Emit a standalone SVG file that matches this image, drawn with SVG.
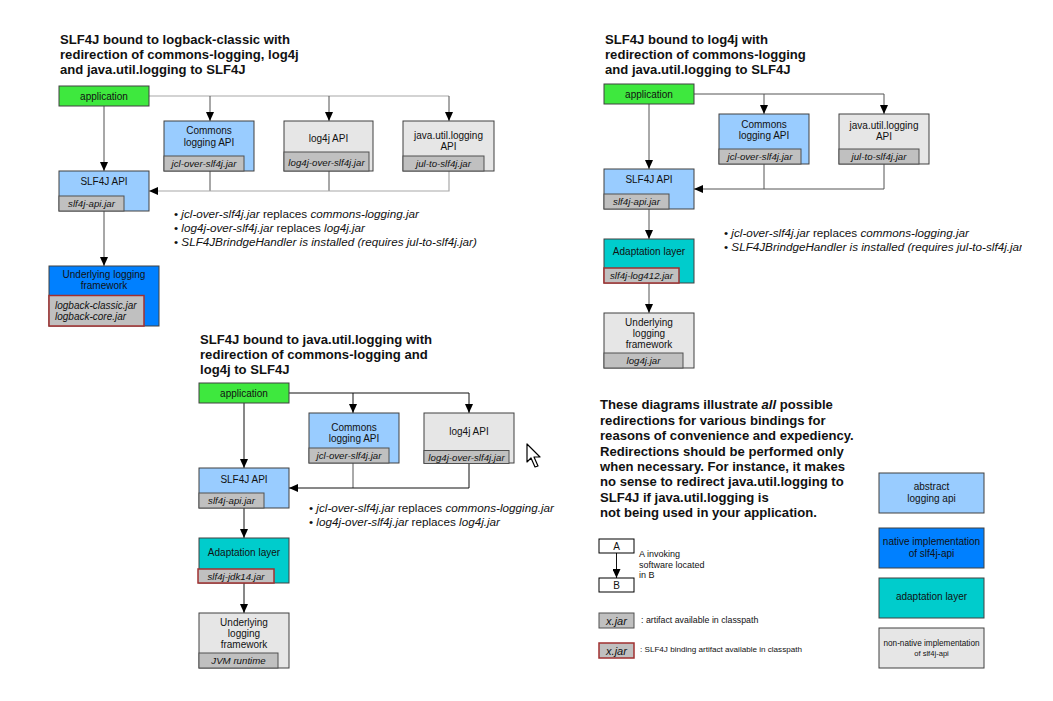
<svg xmlns="http://www.w3.org/2000/svg" width="1053" height="701" viewBox="0 0 1053 701">
<style>
text{font-family:"Liberation Sans",Arial,sans-serif;fill:#111}
.title{font-size:13.1px;font-weight:bold}
.note{font-size:13.1px;font-weight:bold}
.lbl{font-size:10px;text-anchor:middle}
.jt{font-size:9.7px;font-style:italic;text-anchor:middle}
.bul{font-size:11.7px}
.i{font-style:italic}
.box{stroke:#404040;stroke-width:1}
.app{fill:#3ee83e}
.api{fill:#99ccff}
.nat{fill:#0080ff}
.ada{fill:#00cccc}
.gry{fill:#e6e6e6}
.jar{fill:#c0c0c0;stroke:#505050;stroke-width:1}
.bind{fill:#c0c0c0;stroke:#a03030;stroke-width:1.5}
.w{fill:#fff;stroke:#000;stroke-width:1}
.c1{stroke:#a8a8a8;stroke-width:1.2;fill:none}
.c1d{stroke:#505050;stroke-width:1;fill:none}
.c2{stroke:#555;stroke-width:1;fill:none}
.c3{stroke:#111;stroke-width:1;fill:none}
</style>
<defs>
<marker id="arr" markerWidth="9" markerHeight="8" refX="9" refY="4" orient="auto" markerUnits="userSpaceOnUse"><path d="M0,0 L9,4 L0,8 z" fill="#000"/></marker>
<clipPath id="clipR"><rect x="0" y="0" width="1022" height="701"/></clipPath>
</defs>
<rect x="0" y="0" width="1053" height="701" fill="#fff"/>

<!-- Titles -->
<g id="titles">
<text class="title" x="60" y="44">SLF4J bound to logback-classic with</text>
<text class="title" x="60" y="59">redirection of commons-logging, log4j</text>
<text class="title" x="60" y="74">and java.util.logging to SLF4J</text>
<text class="title" x="605" y="44">SLF4J bound to log4j with</text>
<text class="title" x="605" y="59">redirection of commons-logging</text>
<text class="title" x="605" y="74">and java.util.logging to SLF4J</text>
<text class="title" x="200" y="344">SLF4J bound to java.util.logging with</text>
<text class="title" x="200" y="359">redirection of commons-logging and</text>
<text class="title" x="200" y="374">log4j to SLF4J</text>
</g>

<!-- Connectors -->
<g id="connectors">
<!-- diagram 1 -->
<path class="c1" d="M149,96 H449"/>
<path class="c1d" d="M210,96 V121" marker-end="url(#arr)"/>
<path class="c1d" d="M329,96 V121" marker-end="url(#arr)"/>
<path class="c1d" d="M449,96 V121" marker-end="url(#arr)"/>
<path class="c1d" d="M104,106 V171" marker-end="url(#arr)"/>
<path class="c1d" d="M210,171 V191"/>
<path class="c1d" d="M329,171 V191"/>
<path class="c1" d="M449,171 V191 H149" marker-end="url(#arr)"/>
<path class="c1d" d="M104,211 V266" marker-end="url(#arr)"/>
<!-- diagram 2 -->
<path class="c2" d="M694,94 H884"/>
<path class="c2" d="M764,94 V114" marker-end="url(#arr)"/>
<path class="c2" d="M884,94 V114" marker-end="url(#arr)"/>
<path class="c2" d="M649,104 V169" marker-end="url(#arr)"/>
<path class="c2" d="M764,164 V189"/>
<path class="c2" d="M884,164 V189 H694" marker-end="url(#arr)"/>
<path class="c2" d="M649,209 V239" marker-end="url(#arr)"/>
<path class="c2" d="M649,283 V313" marker-end="url(#arr)"/>
<!-- diagram 3 -->
<path class="c3" d="M289,393 H469"/>
<path class="c3" d="M353,393 V413" marker-end="url(#arr)"/>
<path class="c3" d="M469,393 V413" marker-end="url(#arr)"/>
<path class="c3" d="M244,403 V468" marker-end="url(#arr)"/>
<path class="c2" d="M353,463 V488"/>
<path class="c3" d="M469,463 V488 H289" marker-end="url(#arr)"/>
<path class="c3" d="M244,508 V538" marker-end="url(#arr)"/>
<path class="c3" d="M244,583 V613" marker-end="url(#arr)"/>
<!-- legend -->
<path class="c3" d="M616.5,553 V578" marker-end="url(#arr)"/>
</g>

<!-- Diagram 1 nodes -->
<g id="d1-app"><rect class="box app" x="59" y="86" width="90" height="20"/><text class="lbl" x="104" y="99.5">application</text></g>
<g id="d1-commons"><rect class="box api" x="164" y="121" width="90" height="50"/><text class="lbl" x="209" y="134">Commons</text><text class="lbl" x="209" y="145.5">logging API</text><rect class="jar" x="164" y="156" width="80" height="15"/><text class="jt" x="204" y="167">jcl-over-slf4j.jar</text></g>
<g id="d1-log4j"><rect class="box gry" x="284" y="121" width="89" height="50"/><text class="lbl" x="328.5" y="141.5">log4j API</text><rect class="jar" x="284" y="152" width="85" height="19"/><text class="jt" x="326.5" y="165.5">log4j-over-slf4j.jar</text></g>
<g id="d1-jul"><rect class="box gry" x="403" y="121" width="91" height="50"/><text class="lbl" x="448.5" y="139">java.util.logging</text><text class="lbl" x="448.5" y="150">API</text><rect class="jar" x="403" y="156" width="81" height="15"/><text class="jt" x="443.5" y="167">jul-to-slf4j.jar</text></g>
<g id="d1-slf4j"><rect class="box api" x="59" y="171" width="90" height="40"/><text class="lbl" x="104" y="185">SLF4J API</text><rect class="jar" x="59" y="196" width="65" height="15"/><text class="jt" x="91.5" y="207">slf4j-api.jar</text></g>
<g id="d1-underlying"><rect class="box nat" x="49" y="266" width="110" height="60"/><text class="lbl" x="104" y="278">Underlying logging</text><text class="lbl" x="104" y="288.5">framework</text><rect class="bind" x="49" y="295.5" width="95" height="30.5"/><text class="jt" style="text-anchor:start;font-size:10px" x="55" y="309">logback-classic.jar</text><text class="jt" style="text-anchor:start;font-size:10px" x="55" y="319.5">logback-core.jar</text></g>
<g id="d1-notes">
<text class="bul" x="174" y="218">• <tspan class="i">jcl-over-slf4j.jar</tspan> replaces <tspan class="i">commons-logging.jar</tspan></text>
<text class="bul" x="174" y="232">• <tspan class="i">log4j-over-slf4j.jar</tspan> replaces <tspan class="i">log4j.jar</tspan></text>
<text class="bul" x="174" y="245.5">• <tspan class="i">SLF4JBrindgeHandler is installed (requires jul-to-slf4j.jar)</tspan></text>
</g>

<!-- Diagram 2 nodes -->
<g id="d2-app"><rect class="box app" x="604" y="84" width="90" height="20"/><text class="lbl" x="649" y="97.5">application</text></g>
<g id="d2-commons"><rect class="box api" x="719" y="114" width="90" height="50"/><text class="lbl" x="764" y="127.5">Commons</text><text class="lbl" x="764" y="139">logging API</text><rect class="jar" x="719" y="149" width="82" height="15"/><text class="jt" x="760" y="160">jcl-over-slf4j.jar</text></g>
<g id="d2-jul"><rect class="box gry" x="839" y="114" width="90" height="50"/><text class="lbl" x="884" y="128.5">java.util.logging</text><text class="lbl" x="884" y="139.5">API</text><rect class="jar" x="839" y="149" width="80" height="15"/><text class="jt" x="879" y="160">jul-to-slf4j.jar</text></g>
<g id="d2-slf4j"><rect class="box api" x="604" y="169" width="90" height="40"/><text class="lbl" x="649" y="183">SLF4J API</text><rect class="jar" x="604" y="194" width="65" height="15"/><text class="jt" x="636.5" y="205">slf4j-api.jar</text></g>
<g id="d2-adapt"><rect class="box ada" x="604" y="239" width="90" height="44"/><text class="lbl" x="649" y="255">Adaptation layer</text><rect class="bind" x="604" y="268" width="75" height="15"/><text class="jt" x="641.5" y="279">slf4j-log412.jar</text></g>
<g id="d2-underlying"><rect class="box gry" x="604" y="313" width="90" height="55"/><text class="lbl" x="649" y="326">Underlying</text><text class="lbl" x="649" y="337">logging</text><text class="lbl" x="649" y="348">framework</text><rect class="jar" x="604" y="353" width="79" height="15"/><text class="jt" x="643.5" y="364">log4j.jar</text></g>
<g id="d2-notes" clip-path="url(#clipR)">
<text class="bul" x="724" y="237">• <tspan class="i">jcl-over-slf4j.jar</tspan> replaces <tspan class="i">commons-logging.jar</tspan></text>
<text class="bul" x="724" y="250.5">• <tspan class="i">SLF4JBrindgeHandler is installed (requires jul-to-slf4j.jar)</tspan></text>
</g>

<!-- Diagram 3 nodes -->
<g id="d3-app"><rect class="box app" x="199" y="383" width="90" height="20"/><text class="lbl" x="244" y="396.5">application</text></g>
<g id="d3-commons"><rect class="box api" x="309" y="413" width="90" height="50"/><text class="lbl" x="354" y="430.5">Commons</text><text class="lbl" x="354" y="442">logging API</text><rect class="jar" x="309" y="448" width="80" height="15"/><text class="jt" x="349" y="459">jcl-over-slf4j.jar</text></g>
<g id="d3-log4j"><rect class="box gry" x="424" y="413" width="90" height="50"/><text class="lbl" x="469" y="435">log4j API</text><rect class="jar" x="424" y="450.5" width="85" height="13"/><text class="jt" x="466.5" y="460.5">log4j-over-slf4j.jar</text></g>
<g id="d3-slf4j"><rect class="box api" x="199" y="468" width="90" height="40"/><text class="lbl" x="244" y="482.5">SLF4J API</text><rect class="jar" x="199" y="493" width="65" height="15"/><text class="jt" x="231.5" y="504">slf4j-api.jar</text></g>
<g id="d3-adapt"><rect class="box ada" x="199" y="538" width="90" height="45"/><text class="lbl" x="244" y="555.5">Adaptation layer</text><rect class="bind" x="198" y="569" width="76" height="14"/><text class="jt" x="236" y="580">slf4j-jdk14.jar</text></g>
<g id="d3-underlying"><rect class="box gry" x="199" y="613" width="90" height="55"/><text class="lbl" x="244" y="625.5">Underlying</text><text class="lbl" x="244" y="637">logging</text><text class="lbl" x="244" y="648">framework</text><rect class="jar" x="199" y="653" width="79" height="15"/><text class="jt" x="238.5" y="664">JVM runtime</text></g>
<g id="d3-notes">
<text class="bul" x="309" y="512">• <tspan class="i">jcl-over-slf4j.jar</tspan> replaces <tspan class="i">commons-logging.jar</tspan></text>
<text class="bul" x="309" y="525.5">• <tspan class="i">log4j-over-slf4j.jar</tspan> replaces <tspan class="i">log4j.jar</tspan></text>
</g>

<!-- Explanation -->
<g id="explanation">
<text class="note" x="600" y="409">These diagrams illustrate <tspan class="i">all</tspan> possible</text>
<text class="note" x="600" y="424.5">redirections for various bindings for</text>
<text class="note" x="600" y="440">reasons of convenience and expediency.</text>
<text class="note" x="600" y="455.5">Redirections should be performed only</text>
<text class="note" x="600" y="471">when necessary. For instance, it makes</text>
<text class="note" x="600" y="486">no sense to redirect java.util.logging to</text>
<text class="note" x="600" y="501.5">SLF4J if java.util.logging is</text>
<text class="note" x="600" y="517">not being used in your application.</text>
</g>

<!-- Legend -->
<g id="legend-a"><rect class="w" x="599" y="539" width="35" height="14"/><text class="lbl" x="616.5" y="550">A</text></g>
<g id="legend-b"><rect class="w" x="599" y="578" width="35" height="14"/><text class="lbl" x="616.5" y="589">B</text></g>
<g id="legend-ab-text">
<text x="639" y="557" style="font-size:9px">A invoking</text>
<text x="639" y="567.5" style="font-size:9px">software located</text>
<text x="639" y="578" style="font-size:9px">in B</text>
</g>
<g id="legend-jar"><rect class="jar" x="599" y="613" width="35" height="15"/><text class="jt" x="616.5" y="624.5" style="font-size:11px">x.jar</text><text x="641" y="623" style="font-size:8.8px">: artifact available in classpath</text></g>
<g id="legend-bind"><rect class="bind" x="599" y="643" width="35" height="15"/><text class="jt" x="616.5" y="654.5" style="font-size:11px">x.jar</text><text x="640" y="651.5" style="font-size:8.1px">: SLF4J binding artifact available in classpath</text></g>
<g id="legend-abstract"><rect class="box api" x="879" y="473" width="105" height="40"/><text class="lbl" x="931.5" y="489.5">abstract</text><text class="lbl" x="931.5" y="502">logging api</text></g>
<g id="legend-native"><rect class="box nat" x="879" y="528" width="105" height="40"/><text class="lbl" x="931.5" y="544.5">native implementation</text><text class="lbl" x="931.5" y="557">of slf4j-api</text></g>
<g id="legend-adapt"><rect class="box ada" x="879" y="578" width="105" height="40"/><text class="lbl" x="931.5" y="600">adaptation layer</text></g>
<g id="legend-nonnative"><rect class="box gry" x="879" y="628" width="105" height="40"/><text class="lbl" x="931.5" y="645.5" style="font-size:8.2px">non-native implementation</text><text class="lbl" x="931.5" y="656" style="font-size:7.6px">of slf4j-api</text></g>

<!-- mouse pointer -->
<g id="cursor"><path d="M527,444 V462 L531,458 L535,467 L538,466 L534,457 L540,457 Z" fill="#fff" stroke="#000" stroke-width="1.2" stroke-linejoin="round"/></g>
</svg>
